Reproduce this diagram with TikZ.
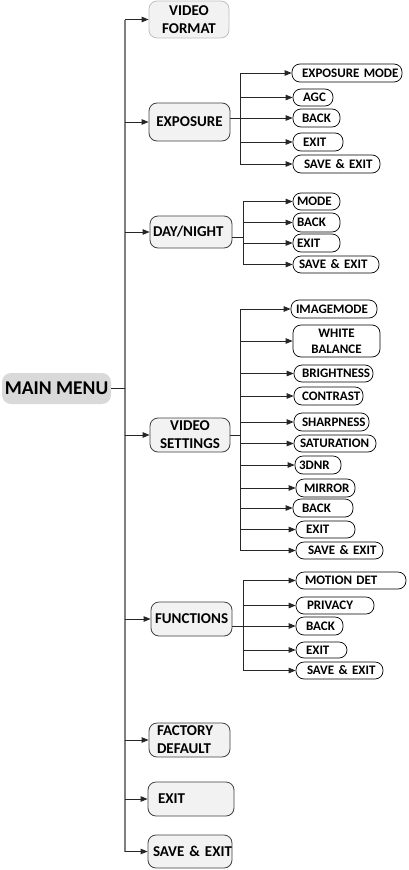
\documentclass[tikz,border=0pt]{standalone}
\usepackage{fontspec}
\setmainfont{Carlito}
\usetikzlibrary{arrows.meta}
\definecolor{lvfill}{HTML}{F2F2F2}
\definecolor{mmfill}{HTML}{D9D9D9}
\definecolor{lvdraw}{HTML}{404040}
\definecolor{vfdraw}{HTML}{BFBFBF}
\definecolor{spinec}{HTML}{7F7F7F}
\tikzset{
  lvbox/.style={draw=lvdraw, fill=lvfill, line width=0.8pt, rounded corners=8pt, inner sep=0pt,
    align=center, font=\fontsize{15}{18}\selectfont\bfseries},
  chbox/.style={draw=black, fill=white, line width=0.7pt, rounded corners=8pt, inner sep=0pt,
    align=center, font=\fontsize{13}{16}\selectfont\bfseries},
  mainbox/.style={fill=mmfill, rounded corners=9pt, inner sep=0pt,
    font=\fontsize{19.5}{22}\selectfont\bfseries},
  conn/.style={draw=black!85, line width=0.8pt},
  arr/.style={conn, -{Triangle[length=7pt,width=5.5pt]}},
  spine/.style={draw=spinec, line width=1.4pt},
  sarr/.style={draw=black!85, line width=0.9pt, -{Triangle[length=7pt,width=5.5pt]}},
}
\newlength\tpad
% centred text: style, name, x1, x2, y1, y2, text
\newcommand{\bx}[7]{%
  \node[#1, minimum width={(#4-#3)*1pt}, minimum height={(#6-#5)*1pt}] (#2) at ({(#3+#4)/2},{(#5+#6)/2}) {#7};}
% left text: style, name, x1, x2, y1, y2, text-x, text
\newcommand{\bxl}[8]{%
  \pgfmathsetlength\tpad{(#7-#3)*1pt}%
  \node[#1, align=left, inner xsep=0pt, text width={(#4-#3)*1pt},
    minimum height={(#6-#5)*1pt}] (#2) at ({(#3+#4)/2},{(#5+#6)/2}) {\hspace*{\tpad}#8};}
\begin{document}
\begin{tikzpicture}[x=1pt,y=-1pt]
\useasboundingbox (0,0) rectangle (408,870);
% main menu
\bx{mainbox}{mm}{2}{111}{373}{404}{MAIN MENU}
% level one
\bx{lvbox,draw=vfdraw}{vf}{149}{229}{1}{38}{VIDEO\\FORMAT}
\bx{lvbox}{ex}{149}{230}{103}{141}{EXPOSURE}
\bxl{lvbox}{dn}{150}{232}{216}{248}{153}{DAY/NIGHT}
\bx{lvbox}{vs}{150}{230}{418}{452}{VIDEO\\SETTINGS}
\bxl{lvbox}{fu}{151}{232}{602}{636}{155}{FUNCTIONS}
\bxl{lvbox}{fd}{149}{230}{723}{757}{157}{FACTORY\\\hspace*{\tpad}DEFAULT}
\bxl{lvbox}{mx}{148}{234}{782}{816}{158}{EXIT}
\bxl{lvbox}{ms}{148}{232}{835}{868}{153}{\mbox{SAVE \& EXIT}}
% exposure children
\bxl{chbox}{em}{292}{402}{64}{82}{302}{\mbox{EXPOSURE MODE}}
\bxl{chbox}{ea}{293}{333}{89}{106}{303}{AGC}
\bxl{chbox}{eb}{293}{340}{109}{127}{302}{BACK}
\bxl{chbox}{ee}{293}{343}{133}{151}{303}{EXIT}
\bxl{chbox}{es}{293}{380}{155}{173}{304}{\mbox{SAVE \& EXIT}}
% day/night children
\bxl{chbox}{dm}{293}{340}{193}{210}{297}{MODE}
\bxl{chbox}{db}{293}{340}{213}{232}{297}{BACK}
\bxl{chbox}{de}{293}{340}{234}{252}{297}{EXIT}
\bxl{chbox}{ds}{293}{379}{256}{273}{299}{\mbox{SAVE \& EXIT}}
% video settings children
\bxl{chbox}{vi}{291}{377}{300}{318}{296}{IMAGEMODE}
\bx{chbox}{vw}{293}{380}{325}{357}{WHITE\\BALANCE}
\bxl{chbox}{vb}{294}{373}{365}{382}{302}{BRIGHTNESS}
\bxl{chbox}{vc}{294}{363}{387}{405}{302}{CONTRAST}
\bxl{chbox}{vh}{294}{369}{413}{431}{302}{SHARPNESS}
\bxl{chbox}{vt}{294}{376}{435}{452}{300}{SATURATION}
\bxl{chbox}{v3}{295}{341}{456}{474}{299}{3DNR}
\bxl{chbox}{vm}{296}{355}{479}{497}{304}{MIRROR}
\bxl{chbox}{vk}{293}{353}{499}{517}{302}{BACK}
\bxl{chbox}{ve}{296}{355}{521}{538}{306}{EXIT}
\bxl{chbox}{vv}{296}{383}{542}{559}{308}{\mbox{SAVE \& EXIT}}
% functions children
\bxl{chbox}{fm}{296}{406}{572}{589}{305}{\mbox{MOTION DET}}
\bxl{chbox}{fp}{296}{374}{597}{614}{307}{PRIVACY}
\bxl{chbox}{fb}{296}{343}{617}{635}{306}{BACK}
\bxl{chbox}{fe}{296}{347}{642}{658}{306}{EXIT}
\bxl{chbox}{fs}{296}{383}{662}{679}{307}{\mbox{SAVE \& EXIT}}
% junction coordinates
\coordinate (sp) at (125,388.5);
\coordinate (jE) at (240,118);
\coordinate (jD) at (243,237);
\coordinate (jV) at (240,435);
\coordinate (jF) at (243,626);
% main spine
\draw[spine] (sp |- vf.west) -- (sp |- ms.west);
\draw[conn] (mm.east |- sp) -- (sp);
\foreach \n in {vf,ex,dn,vs,fu,fd,mx,ms}{
  \draw[sarr] (sp |- \n.west) -- (\n.west);
}
% exposure branch
\draw[conn] (ex.east |- jE) -- (jE);
\draw[conn] (jE |- em.west) -- (jE |- es.west);
\foreach \n in {em,ea,eb,ee,es}{ \draw[arr] (jE |- \n.west) -- (\n.west); }
% day/night branch
\draw[conn] (dn.east |- jD) -- (jD);
\draw[conn] (jD |- dm.west) -- (jD |- ds.west);
\foreach \n in {dm,db,de,ds}{ \draw[arr] (jD |- \n.west) -- (\n.west); }
% video settings branch
\draw[conn] (vs.east |- jV) -- (jV);
\draw[conn] (jV |- vi.west) -- (jV |- vv.west);
\foreach \n in {vi,vw,vb,vc,vh,vt,v3,vm,vk,ve,vv}{ \draw[arr] (jV |- \n.west) -- (\n.west); }
% functions branch
\draw[conn] (fu.east |- jF) -- (jF);
\draw[conn] (jF |- fm.west) -- (jF |- fs.west);
\foreach \n in {fm,fp,fb,fe,fs}{ \draw[arr] (jF |- \n.west) -- (\n.west); }
\end{tikzpicture}
\end{document}
